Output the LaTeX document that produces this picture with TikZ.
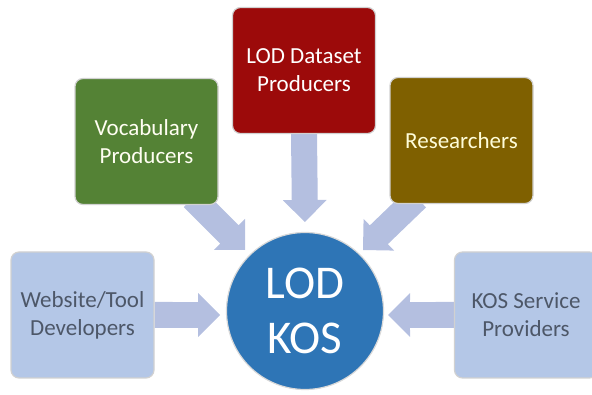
\documentclass[tikz,border=0pt]{standalone}
\usepackage{fontspec}
\setmainfont{Carlito}
\usetikzlibrary{calc,backgrounds}
\definecolor{grn}{HTML}{548235}
\definecolor{dred}{HTML}{9C0A0A}
\definecolor{olive}{HTML}{7F6000}
\definecolor{lblue}{HTML}{B4C7E7}
\definecolor{kblue}{HTML}{2E75B6}
\definecolor{arrowc}{HTML}{B4BFE0}
\definecolor{dtext}{HTML}{4D5768}
\tikzset{
  box/.style={rectangle, rounded corners=8pt, draw=black!18, line width=1.2pt,
    minimum width=143pt, minimum height=126pt, align=center,
    font=\fontsize{23}{28}\selectfont, inner sep=0pt},
  arrowfill/.style={fill=arrowc},
}
\newcommand{\blockarrow}[2]{%
  \fill[arrowfill] ($(#1)!13pt!90:(#2)$) -- ($(#2)!25.55pt!-30.58:(#1)$) --
    ($(#2)!31.11pt!-45:(#1)$) -- (#2) -- ($(#2)!31.11pt!45:(#1)$) --
    ($(#2)!25.55pt!30.58:(#1)$) -- ($(#1)!13pt!-90:(#2)$) -- cycle;}
\begin{document}
\begin{tikzpicture}[x=1pt,y=-1pt]
\useasboundingbox (0,0) rectangle (592,395);
\clip (0,0) rectangle (592,395);
% nodes
\node[box, fill=grn, text=white!95!yellow] (voc) at (146.5,141.5) {Vocabulary\\Producers};
\node[box, fill=dred, text=white] (lodds) at (304,70.5) {LOD Dataset\\Producers};
\node[box, fill=olive, text=yellow!15!white] (res) at (461.5,140.5) {Researchers};
\node[box, fill=lblue, text=dtext] (web) at (82.5,315) {Website/Tool\\Developers};
\node[box, fill=lblue, text=dtext] (ksp) at (526,315) {KOS Service\\Providers};
\node[circle, fill=kblue, draw=black!15, line width=1.2pt, minimum size=157pt, inner sep=0pt,
  text=white, align=center, font=\fontsize{47}{55}\selectfont] (kos) at (305,311) {LOD\\KOS};
% arrow end points
\coordinate (tTop) at (305,222);
\coordinate (sVoc) at (193,198);
\coordinate (tVoc) at (245,250);
\coordinate (sRes) at (417,198);
\coordinate (tRes) at (363,250);
\coordinate (tWeb) at (220,315);
\coordinate (tKsp) at (388,315);
% block arrows behind the boxes
\begin{scope}[on background layer]
\blockarrow{lodds.south}{tTop}
\blockarrow{sVoc}{tVoc}
\blockarrow{sRes}{tRes}
\blockarrow{web.east}{tWeb}
\blockarrow{ksp.west}{tKsp}
\end{scope}
\end{tikzpicture}
\end{document}
